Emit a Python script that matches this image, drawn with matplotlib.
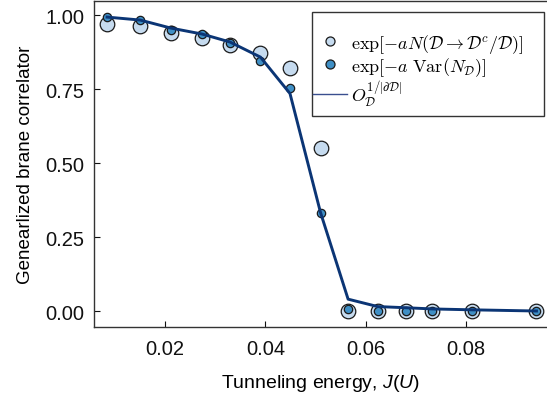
import matplotlib.pyplot as plt
from matplotlib.lines import Line2D
from matplotlib.patches import Rectangle

plt.rcParams['font.family'] = ['Liberation Sans', 'DejaVu Sans']
plt.rcParams['font.sans-serif'] = ['Liberation Sans']
plt.rcParams['mathtext.fontset'] = 'cm'

# tunneling energy J(U)
J = [0.0084, 0.0150, 0.0211, 0.0273, 0.0329, 0.0390, 0.0449, 0.0510,
     0.0565, 0.0624, 0.0681, 0.0733, 0.0812, 0.0941]

# exp[-aN(D -> D^c / D)]
n_transfer = [0.969, 0.963, 0.939, 0.924, 0.900, 0.873, 0.821, 0.550,
              0.000, 0.000, 0.000, 0.000, 0.000, 0.000]
# exp[-a Var(N_D)]
n_var = [0.992, 0.983, 0.950, 0.937, 0.906, 0.845, 0.754, 0.333,
         0.008, 0.002, 0.002, 0.001, 0.001, 0.001]
# brane correlator O_D^(1/|dD|)
brane = [0.993, 0.983, 0.956, 0.936, 0.909, 0.858, 0.735, 0.333,
         0.041, 0.016, 0.012, 0.008, 0.005, 0.001]

light = '#c6dbef'
mid = '#3f8fc5'
navy = '#0b3575'

W, H = 547, 402
fig = plt.figure(figsize=(W / 100, H / 100), dpi=100)
ax = fig.add_axes([0.1722, 0.1848, 0.8278, 0.81])

ax.scatter(J, n_transfer, s=110, color=light, edgecolors='#1a1a1a',
           linewidths=0.9, zorder=2)
ax.scatter(J, n_var, s=36, color=mid, edgecolors='#1a1a1a',
           linewidths=0.9, zorder=3)
ax.plot(J, brane, color=navy, lw=2.1, zorder=4)

ax.set_xlim(0.00582, 0.0962)
ax.set_ylim(-0.052, 1.047)
ax.set_xticks([0.02, 0.04, 0.06, 0.08])
ax.set_yticks([0.0, 0.25, 0.5, 0.75, 1.0])
ax.set_xticklabels(['0.02', '0.04', '0.06', '0.08'])
ax.set_yticklabels(['0.00', '0.25', '0.50', '0.75', '1.00'])
ax.tick_params(direction='in', length=4, width=0.8, labelsize=14.5,
               colors='#111111')
ax.tick_params(axis='x', pad=9)
ax.tick_params(axis='y', pad=7)
ax.spines['right'].set_visible(False)
for s in ['left', 'bottom', 'top']:
    ax.spines[s].set_linewidth(1.0)
    ax.spines[s].set_color('#333333')

ax.set_xlabel('Tunneling energy, $J$($U$)', fontsize=14, labelpad=10,
              math_fontfamily='custom')
ax.set_ylabel('Genearlized brane correlator', fontsize=13.5, labelpad=8)

# legend: small markers, thin line, frame drawn separately
handles = [
    Line2D([], [], ls='none', marker='o', ms=6.5, mfc=light, mec='#1a1a1a',
           mew=0.9),
    Line2D([], [], ls='none', marker='o', ms=6.5, mfc=mid, mec='#1a1a1a',
           mew=0.9),
    Line2D([], [], color='#3a4f8f', lw=1.0),
]
labels = [
    r'$\exp[-aN(\mathcal{D}\rightarrow\mathcal{D}^c/\mathcal{D})]$',
    r'$\exp[-a\ \mathrm{Var}(N_{\mathcal{D}})]$',
    r'$O_{\mathcal{D}}^{1/|\partial\mathcal{D}|}$',
]
leg = fig.legend(handles, labels, loc='upper left',
                 bbox_to_anchor=(313 / W, (H - 33) / H), fontsize=13,
                 frameon=False, handletextpad=0.22, handlelength=1.9,
                 handleheight=0.9, borderpad=0, borderaxespad=0,
                 labelspacing=0.02)
fig.patches.append(Rectangle((312 / W, (H - 117) / H), 232 / W, 104 / H,
                             transform=fig.transFigure, fill=True,
                             facecolor='white', edgecolor='#333333',
                             lw=1.0, zorder=5))
leg.set_zorder(6)

fig.savefig('out.png', dpi=100)
